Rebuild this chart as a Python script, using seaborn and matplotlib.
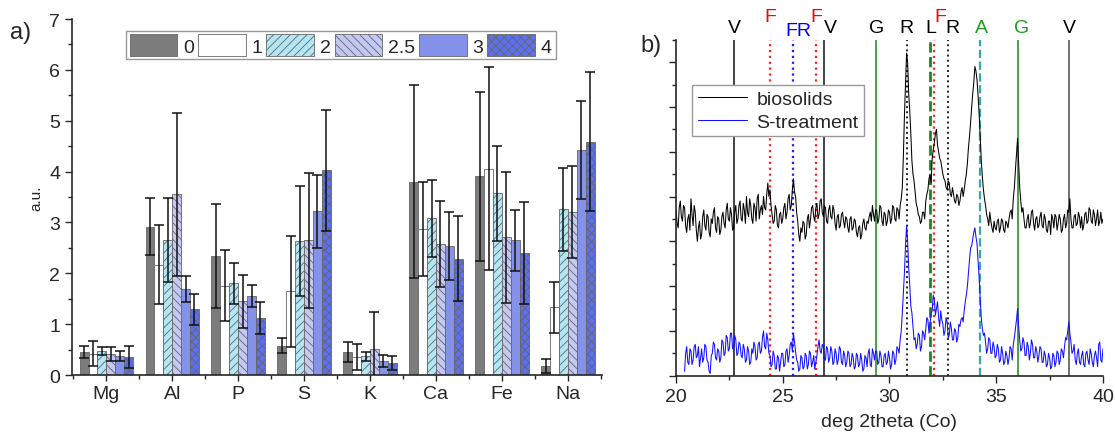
import numpy as np
import pandas as pd
import matplotlib
matplotlib.use("Agg")
import matplotlib.pyplot as plt
import seaborn as sns

# --- a) element ratios ---
elements = ['Mg', 'Al', 'P', 'S', 'K', 'Ca', 'Fe', 'Na']
levels = ['0', '1', '2', '2.5', '3', '4']
means = {
    '0':   [0.45, 2.92, 2.34, 0.58, 0.45, 3.80, 3.91, 0.18],
    '1':   [0.42, 2.17, 1.76, 1.65, 0.35, 2.87, 4.06, 1.33],
    '2':   [0.47, 2.66, 1.80, 2.64, 0.37, 3.08, 3.57, 3.26],
    '2.5': [0.42, 3.55, 1.45, 2.65, 0.51, 2.58, 2.71, 3.20],
    '3':   [0.37, 1.69, 1.55, 3.22, 0.28, 2.54, 2.65, 4.42],
    '4':   [0.35, 1.29, 1.12, 4.03, 0.23, 2.29, 2.40, 4.59],
}
errs = {
    '0':   [0.12, 0.56, 1.02, 0.14, 0.19, 1.90, 1.66, 0.14],
    '1':   [0.24, 0.77, 0.70, 1.09, 0.25, 0.93, 2.00, 0.50],
    '2':   [0.08, 0.83, 0.41, 1.08, 0.09, 0.76, 0.93, 0.82],
    '2.5': [0.14, 1.60, 0.52, 1.33, 0.72, 0.85, 1.29, 0.90],
    '3':   [0.10, 0.26, 0.22, 0.72, 0.12, 0.67, 0.60, 0.96],
    '4':   [0.22, 0.31, 0.31, 1.19, 0.14, 0.83, 1.01, 1.37],
}

# --- b) XRD patterns (step 0.05 deg) ---
two_theta = np.round(20 + 0.05 * np.arange(401), 2)
biosolids = [
    7.4, 6.8, 6.6, 7.5, 7.8, 7.1, 6.9, 7.6, 7.5, 6.7,
    6.4, 7.0, 7.2, 6.5, 7.9, 7.2, 6.7, 7.6, 7.3, 6.5,
    6.0, 6.6, 6.9, 6.1, 6.3, 7.1, 7.4, 6.7, 6.5, 7.2,
    7.1, 6.4, 6.2, 7.0, 6.8, 7.3, 7.5, 6.6, 6.4, 7.1,
    7.0, 6.3, 6.5, 7.1, 7.3, 6.8, 6.6, 7.4, 7.7, 7.0,
    6.9, 7.5, 7.2, 6.5, 6.6, 7.3, 7.6, 6.8, 7.0, 7.6,
    7.8, 7.0, 6.9, 7.7, 7.4, 6.8, 8.0, 7.3, 7.1, 7.9,
    7.6, 7.0, 6.8, 7.7, 7.5, 6.9, 7.9, 8.1, 7.0, 7.4,
    7.6, 7.2, 8.0, 7.5, 7.4, 8.1, 8.6, 8.0, 8.3, 7.6,
    7.2, 6.8, 6.9, 7.6, 7.4, 6.7, 6.6, 7.2, 7.3, 6.8,
    7.0, 7.5, 7.7, 7.0, 7.3, 7.9, 8.1, 7.4, 7.6, 8.3,
    8.8, 8.2, 8.0, 7.3, 6.9, 6.3, 6.0, 6.6, 6.4, 6.9,
    6.8, 6.1, 6.3, 7.0, 7.2, 6.6, 7.0, 7.5, 7.6, 7.1,
    6.9, 7.5, 7.7, 7.0, 7.2, 7.8, 7.9, 7.3, 7.1, 7.6,
    7.5, 6.9, 6.8, 7.4, 7.6, 7.1, 7.0, 7.6, 7.4, 6.8,
    6.5, 7.1, 7.2, 6.6, 6.7, 7.2, 7.3, 6.9, 6.6, 7.1,
    7.0, 6.6, 6.4, 7.0, 7.1, 6.5, 6.6, 7.0, 6.9, 6.4,
    6.2, 6.6, 6.7, 6.1, 6.3, 6.8, 7.0, 6.6, 6.5, 6.9,
    6.8, 7.1, 7.3, 6.9, 7.6, 7.2, 6.9, 7.4, 7.4, 6.8,
    7.0, 7.6, 7.5, 6.9, 6.7, 7.3, 7.2, 6.7, 6.9, 7.4,
    7.3, 6.8, 7.0, 7.6, 7.5, 7.0, 6.9, 7.5, 7.4, 7.0,
    7.6, 7.9, 8.4, 9.8, 11.6, 13.0, 14.4, 14.0, 12.6, 11.8,
    10.8, 9.6, 9.0, 8.7, 8.2, 7.7, 7.5, 7.2, 7.1, 6.8,
    6.9, 7.3, 7.3, 7.0, 7.8, 8.1, 8.3, 8.8, 9.0, 8.6,
    9.7, 10.1, 10.4, 10.8, 11.0, 10.3, 10.0, 9.7, 9.6, 9.3,
    9.0, 8.8, 8.7, 8.4, 8.3, 8.7, 8.6, 8.1, 8.0, 8.4,
    8.1, 7.8, 7.7, 8.1, 8.0, 7.6, 7.8, 8.2, 8.4, 8.0,
    8.3, 8.7, 9.0, 9.5, 10.2, 10.7, 11.3, 12.0, 12.6, 13.1,
    13.8, 13.6, 13.2, 12.5, 11.7, 10.6, 9.6, 8.9, 8.3, 7.9,
    7.6, 7.2, 7.0, 6.7, 7.3, 6.9, 6.6, 6.4, 6.9, 6.6,
    6.5, 6.9, 7.0, 6.4, 6.6, 7.0, 6.9, 6.5, 6.4, 6.9,
    6.8, 6.6, 7.0, 7.3, 7.4, 7.0, 7.9, 8.4, 9.2, 9.9,
    10.6, 9.5, 8.4, 7.8, 7.3, 7.5, 7.0, 6.6, 6.6, 7.0,
    7.2, 6.6, 6.8, 7.3, 7.4, 6.8, 6.5, 7.0, 7.1, 6.6,
    6.7, 7.1, 7.3, 6.7, 6.6, 7.2, 7.0, 6.5, 6.4, 6.9,
    6.9, 6.3, 7.2, 7.0, 6.6, 7.2, 7.1, 6.5, 6.8, 7.2,
    7.0, 6.4, 6.5, 7.0, 7.2, 6.6, 6.8, 7.4, 7.3, 7.9,
    7.0, 6.6, 6.6, 7.1, 7.2, 6.7, 6.8, 7.3, 7.1, 6.6,
    7.1, 6.5, 6.7, 7.2, 7.3, 6.8, 6.9, 7.5, 7.4, 6.9,
    6.8, 7.4, 7.2, 6.7, 7.0, 7.4, 6.7, 6.9, 7.3, 6.8,
    7.0,
]
two_theta_s = two_theta[8:]   # S-treatment scan starts at 20.4
s_treatment = [
    0.2, 1.0,
    1.3, 0.6, 0.5, 1.2, 1.1, 0.5, 0.7, 1.3, 1.4, 0.8,
    0.9, 1.3, 0.4, 0.8, 1.2, 0.6, 0.8, 1.4, 1.3, 0.7,
    0.6, 0.2, 0.1, 0.9, 1.0, 1.5, 1.4, 0.8, 0.7, 1.2,
    1.1, 0.6, 0.8, 1.6, 1.5, 0.9, 1.0, 1.8, 1.7, 1.1,
    1.2, 1.9, 1.9, 1.2, 1.3, 1.8, 1.6, 0.9, 1.0, 1.5,
    1.4, 0.9, 0.8, 1.4, 1.2, 0.6, 0.7, 1.3, 1.1, 0.5,
    0.6, 1.2, 1.0, 1.5, 1.3, 0.7, 0.8, 1.4, 1.5, 1.0,
    1.1, 1.7, 2.0, 1.3, 1.2, 1.9, 1.6, 1.0, 0.9, 0.4,
    0.5, 1.1, 0.9, 0.3, 0.3, 0.9, 0.8, 0.2, 0.6, 1.0,
    1.0, 0.4, 0.5, 1.1, 1.2, 0.6, 0.9, 1.4, 1.5, 1.1,
    1.9, 1.5, 1.1, 0.7, 0.6, 0.2, 0.3, 0.9, 0.8, 0.3,
    0.4, 1.0, 0.9, 0.3, 0.5, 1.1, 1.0, 0.4, 0.6, 0.9,
    0.3, 0.6, 0.9, 1.3, 1.6, 1.1, 1.0, 1.4, 1.3, 0.7,
    0.7, 1.3, 1.2, 0.6, 0.8, 1.3, 1.1, 0.5, 0.6, 1.2,
    1.0, 0.5, 0.7, 1.3, 1.2, 0.6, 0.5, 1.1, 0.9, 0.4,
    0.6, 1.1, 1.0, 0.4, 0.5, 1.0, 0.8, 0.3, 0.4, 1.0,
    0.9, 0.4, 0.5, 1.0, 0.7, 0.2, 0.3, 0.9, 0.8, 0.4,
    1.0, 1.2, 0.5, 0.4, 1.2, 1.0, 0.7, 1.1, 1.1, 0.5,
    0.6, 1.1, 0.9, 0.4, 0.4, 0.9, 1.0, 0.5, 0.6, 1.1,
    0.8, 0.3, 0.5, 1.1, 1.0, 0.5, 0.7, 1.3, 1.2, 1.0,
    1.6, 2.0, 2.8, 3.7, 4.6, 5.8, 6.7, 6.0, 4.8, 4.0,
    3.1, 2.8, 2.2, 1.6, 1.7, 1.2, 1.4, 1.9, 1.8, 1.1,
    1.3, 2.0, 1.9, 1.6, 2.1, 2.6, 2.5, 1.9, 2.3, 2.8,
    2.9, 3.6, 3.4, 2.7, 3.0, 3.3, 2.6, 2.2, 2.9, 2.5,
    2.3, 1.8, 2.0, 2.6, 2.4, 1.7, 1.8, 2.4, 2.1, 1.6,
    1.6, 2.1, 2.0, 1.5, 1.7, 2.3, 2.2, 2.5, 2.6, 2.4,
    2.9, 3.3, 3.6, 4.0, 4.6, 5.2, 5.7, 5.8, 6.1, 6.4,
    6.6, 6.2, 5.9, 5.1, 4.4, 3.4, 2.6, 2.1, 1.8, 1.9,
    1.5, 1.0, 1.2, 1.7, 1.6, 1.0, 1.0, 1.5, 1.3, 0.8,
    0.9, 1.4, 1.2, 0.6, 0.7, 1.3, 1.0, 0.5, 0.6, 1.1,
    0.9, 0.5, 0.8, 1.3, 1.2, 0.7, 1.4, 1.7, 2.1, 2.5,
    3.0, 2.2, 1.6, 1.1, 1.2, 1.7, 1.5, 0.9, 0.9, 1.5,
    1.3, 0.7, 1.0, 1.6, 1.4, 0.8, 0.8, 1.3, 1.1, 0.6,
    0.9, 1.3, 1.2, 0.6, 0.6, 1.1, 0.9, 0.4, 0.5, 1.0,
    0.8, 0.3, 0.4, 1.0, 0.9, 0.4, 0.6, 1.1, 1.0, 0.5,
    0.7, 1.2, 1.1, 0.8, 1.3, 1.7, 1.6, 2.0, 2.4, 1.9,
    1.5, 1.0, 1.1, 1.4, 0.7, 0.5, 1.0, 1.2, 0.6, 0.5,
    0.9, 1.1, 0.5, 0.4, 1.0, 1.1, 0.7, 0.5, 1.2, 1.0,
    0.6, 0.4, 0.9, 1.1, 0.8, 0.4, 1.4, 1.5, 0.7, 0.6,
    1.2,
]

# reference phase lines
phase_names = ['V', 'F', 'FR', 'F', 'V', 'G', 'R', 'L', 'F', 'R', 'A', 'G', 'V']
phase_pos = [22.73, 24.41, 25.50, 26.55, 26.92, 29.36, 30.81, 31.92, 32.09, 32.72, 34.22, 36.00, 38.42]

sns.set_style('ticks')
plt.rcParams['font.family'] = ['Liberation Sans', 'DejaVu Sans']

fig = plt.figure(figsize=(11.15, 4.35), dpi=100)
ax1 = fig.add_axes([0.0646, 0.1356, 0.4754, 0.8184])
ax2 = fig.add_axes([0.6063, 0.1340, 0.3829, 0.7724])

# ---------- left panel ----------
df = pd.DataFrame({
    'element': np.repeat([elements], len(levels), axis=0).ravel(),
    'level': np.repeat(levels, len(elements)),
    'value': np.concatenate([means[l] for l in levels]),
})
bar_colors = ['#7c7c7c', '#ffffff', '#b2e6f5', '#c3c9f4', '#8592ea', '#5b6ff0']
hatches = ['', '', '////', '\\\\\\\\', '', 'xxxx']
plt.rcParams['hatch.linewidth'] = 0.6
plt.rcParams['hatch.color'] = '#444444'

sns.barplot(data=df, x='element', y='value', hue='level', order=elements,
            hue_order=levels, palette=bar_colors, errorbar=None, width=0.81,
            saturation=1, edgecolor='#666666', linewidth=0.6, ax=ax1)

bar_conts = list(ax1.containers)
for cont, lvl, h in zip(bar_conts, levels, hatches):
    xs = []
    for p in cont.patches:
        p.set_hatch(h)
        xs.append(p.get_x() + p.get_width() / 2)
    ax1.errorbar(xs, means[lvl], yerr=errs[lvl], fmt='none', ecolor='#111111',
                 elinewidth=1.1, capsize=3.5, capthick=1.1, zorder=5)

ax1.get_legend().remove()
handles = [c.patches[0] for c in bar_conts]
leg = ax1.legend(handles, levels, ncol=6, loc='upper center',
                 bbox_to_anchor=(0.507, 0.995), fontsize=14, handlelength=2.45,
                 handleheight=1.3, handletextpad=0.3, columnspacing=0.2,
                 borderpad=0.2, fancybox=False, framealpha=1, edgecolor='#999999')

ax1.set_xlim(-0.52, 7.52)
ax1.set_ylim(0, 7)
ax1.set_xlabel('')
ax1.set_ylabel('a.u.', fontsize=11)
ax1.set_yticks(range(8))
ax1.set_yticks(np.arange(0.5, 7, 1), minor=True)
ax1.set_xticks(np.arange(-0.5, 8, 1), minor=True)
ax1.tick_params(axis='both', which='major', labelsize=14, direction='out', length=5, width=1)
ax1.tick_params(axis='both', which='minor', direction='out', length=3, width=1)
ax1.tick_params(axis='x', which='major', length=4)
for s in ['left', 'bottom']:
    ax1.spines[s].set_linewidth(1.2)
sns.despine(ax=ax1)

# ---------- right panel ----------
sns.lineplot(x=two_theta, y=biosolids, color='black', linewidth=0.75,
             label='biosolids', ax=ax2)
sns.lineplot(x=two_theta_s, y=s_treatment, color='#1010ff', linewidth=0.75,
             label='S-treatment', ax=ax2)

line_style = {
    'V': dict(color='#222222', ls='-', lw=1.2),
    'F': dict(color='#ff2020', ls=':', lw=1.6),
    'FR': dict(color='#2020ff', ls=':', lw=1.6),
    'G': dict(color='#2c8f2c', ls='-', lw=1.2),
    'R': dict(color='#222222', ls=':', lw=1.4),
    'L': dict(color='#1a8a1a', ls='--', lw=2.0),
    'A': dict(color='#3aa8a8', ls='--', lw=1.6),
}
label_color = ['black', 'red', 'blue', 'red', 'black', 'black', 'black',
               'black', 'red', 'black', '#1f9a1f', '#1f9a1f', 'black']
label_dx = [0, 0, 0.23, 0, 0.30, 0.05, 0, 0, 0.29, 0.21, 0.11, 0.2, 0]
for i, (name, pos) in enumerate(zip(phase_names, phase_pos)):
    st = line_style[name]
    c = '#555555' if i == 12 else st['color']
    ax2.axvline(pos, color=c, linestyle=st['ls'], linewidth=st['lw'], zorder=1)
    ly = 16.05 if name == 'F' else (15.4 if name == 'FR' else 15.55)
    ax2.text(pos + label_dx[i], ly, name, color=label_color[i], fontsize=14,
             ha='center', va='center', clip_on=False)

ax2.set_xlim(20, 40)
ax2.set_ylim(0, 15)
ax2.set_xticks([20, 25, 30, 35, 40])
ax2.set_xticks([22.5, 27.5, 32.5, 37.5], minor=True)
ax2.set_yticks(range(0, 16, 2))
ax2.set_yticks(range(1, 16, 2), minor=True)
ax2.set_yticklabels([])
ax2.tick_params(axis='both', which='major', labelsize=14, direction='out', length=5, width=1)
ax2.tick_params(axis='both', which='minor', direction='out', length=3, width=1)
ax2.set_xlabel('deg 2theta (Co)', fontsize=14, labelpad=6)
for s in ['left', 'bottom']:
    ax2.spines[s].set_linewidth(1.2)
sns.despine(ax=ax2)
ax2.legend(loc='upper left', bbox_to_anchor=(0.015, 0.895), fontsize=14,
           handlelength=2.5, handletextpad=0.5, borderpad=0.3, labelspacing=0.25,
           fancybox=False, framealpha=1, edgecolor='#999999')

fig.text(0.009, 0.924, 'a)', fontsize=17, va='center')
fig.text(0.574, 0.895, 'b)', fontsize=17, va='center')

fig.savefig('out.png', dpi=100)
